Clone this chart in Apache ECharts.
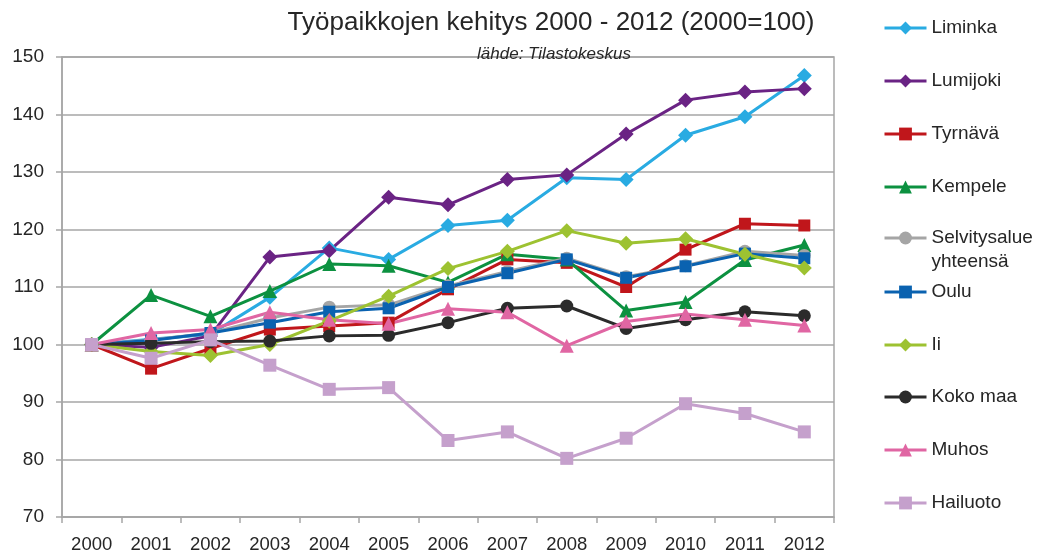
<!DOCTYPE html>
<html>
<head>
<meta charset="utf-8">
<script src="https://cdn.jsdelivr.net/npm/echarts@6/dist/echarts.min.js"></script>
<style>
  html, body { margin: 0; padding: 0; background: #fff; }
  #chart { width: 1039px; height: 555px; }
</style>
</head>
<body>
<div id="chart"></div>
<script>
// categories
const years = ['2000', '2001', '2002', '2003', '2004', '2005', '2006', '2007', '2008', '2009', '2010', '2011', '2012'];

// index values, 2000 = 100
const liminka      = [100, 100.9, 101.8, 108.2, 116.8, 114.8, 120.7, 121.6, 129.0, 128.7, 136.4, 139.6, 146.8];
const lumijoki     = [100, 99.5, 101.5, 115.2, 116.3, 125.6, 124.3, 128.7, 129.5, 136.6, 142.5, 143.9, 144.5];
const tyrnava      = [100, 95.8, 99.3, 102.6, 103.2, 103.8, 109.6, 114.8, 114.2, 110.0, 116.5, 121.0, 120.7];
const kempele      = [100, 108.6, 104.9, 109.3, 114.0, 113.7, 110.8, 115.7, 114.8, 105.9, 107.4, 114.7, 117.3];
const selvitysalue = [100, 100.8, 102.0, 104.6, 106.5, 106.9, 110.2, 112.7, 115.0, 111.8, 113.7, 116.2, 115.5];
const oulu         = [100, 100.7, 102.0, 103.8, 105.7, 106.3, 110.0, 112.4, 114.8, 111.6, 113.6, 115.8, 115.0];
const ii           = [100, 98.8, 98.1, 100.0, 104.1, 108.4, 113.2, 116.2, 119.8, 117.6, 118.4, 115.7, 113.3];
const kokoMaa      = [100, 100.2, 100.5, 100.6, 101.5, 101.6, 103.8, 106.3, 106.7, 102.8, 104.3, 105.7, 105.0];
const muhos        = [100, 102.0, 102.6, 105.6, 104.3, 103.6, 106.2, 105.6, 99.8, 104.0, 105.3, 104.3, 103.3];
const hailuoto     = [100, 97.6, 100.8, 96.4, 92.2, 92.5, 83.3, 84.8, 80.2, 83.7, 89.7, 88.0, 84.8];

const seriesDefs = [
  { name: 'Liminka', data: liminka, color: '#29abe2', symbol: 'diamond', size: 15 },
  { name: 'Lumijoki', data: lumijoki, color: '#6a2384', symbol: 'diamond', size: 15 },
  { name: 'Tyrnävä', data: tyrnava, color: '#c0161b', symbol: 'rect', size: 12 },
  { name: 'Kempele', data: kempele, color: '#0c9140', symbol: 'triangle', size: 14 },
  { name: 'Selvitysalue yhteensä', data: selvitysalue, color: '#a5a5a5', symbol: 'circle', size: 13 },
  { name: 'Oulu', data: oulu, color: '#0a62b0', symbol: 'rect', size: 12 },
  { name: 'Ii', data: ii, color: '#9dc231', symbol: 'diamond', size: 15 },
  { name: 'Koko maa', data: kokoMaa, color: '#2b2b2b', symbol: 'circle', size: 13 },
  { name: 'Muhos', data: muhos, color: '#e066a3', symbol: 'triangle', size: 14 },
  { name: 'Hailuoto', data: hailuoto, color: '#c5a0cc', symbol: 'rect', size: 13 }
];

const legendTops = [28, 81, 134, 187, 238, 292, 345, 397, 450, 503];
const font = "'Liberation Sans', 'DejaVu Sans', sans-serif";

const myChart = echarts.init(document.getElementById('chart'));

// one legend per item so the two-line entry does not push the rest down
const legends = seriesDefs.map((s, i) => {
  const multi = s.name === 'Selvitysalue yhteensä';
  return {
    data: [s.name],
    left: 883,
    top: legendTops[i] - (multi ? 36 : 12),
    padding: 0,
    itemWidth: 42,
    itemHeight: 16,
    selectedMode: false,
    lineStyle: { width: 3 },
    formatter: multi ? ' \nSelvitysalue\nyhteensä' : '{name}',
    textStyle: {
      fontFamily: font,
      fontSize: 19,
      color: '#262626',
      lineHeight: 24
    }
  };
});

const option = {
  animation: false,
  title: [
    {
      text: 'Työpaikkojen kehitys 2000 - 2012 (2000=100)',
      left: 546,
      textAlign: 'center',
      top: 5,
      textStyle: { fontFamily: font, fontSize: 26, fontWeight: 'normal', color: '#262626' }
    },
    {
      text: 'lähde: Tilastokeskus',
      left: 549,
      textAlign: 'center',
      top: 41,
      textStyle: { fontFamily: font, fontSize: 17, fontStyle: 'italic', fontWeight: 'normal', color: '#262626' }
    }
  ],
  legend: legends,
  grid: {
    left: 62,
    right: 205,
    top: 57,
    bottom: 38,
    show: true,
    borderColor: '#a6a6a6',
    borderWidth: 1.5
  },
  xAxis: {
    type: 'category',
    data: years,
    boundaryGap: true,
    axisLine: { lineStyle: { color: '#a6a6a6', width: 1.5 } },
    axisTick: { show: true, length: 6, lineStyle: { color: '#a6a6a6', width: 1.5 } },
    axisLabel: { fontFamily: font, fontSize: 18.5, color: '#262626', margin: 18 }
  },
  yAxis: {
    type: 'value',
    min: 70,
    max: 150,
    interval: 10,
    axisLine: { show: true, lineStyle: { color: '#a6a6a6', width: 1.5 } },
    axisTick: { show: true, length: 6, lineStyle: { color: '#a6a6a6', width: 1.5 } },
    splitLine: { lineStyle: { color: '#a6a6a6', width: 1.5 } },
    axisLabel: { fontFamily: font, fontSize: 19, color: '#262626', margin: 18 }
  },
  series: seriesDefs.map(s => ({
    name: s.name,
    type: 'line',
    data: s.data,
    color: s.color,
    symbol: s.symbol,
    symbolSize: s.size,
    showAllSymbol: true,
    lineStyle: { width: 3, color: s.color },
    itemStyle: { color: s.color }
  }))
};

myChart.setOption(option);
</script>
</body>
</html>
